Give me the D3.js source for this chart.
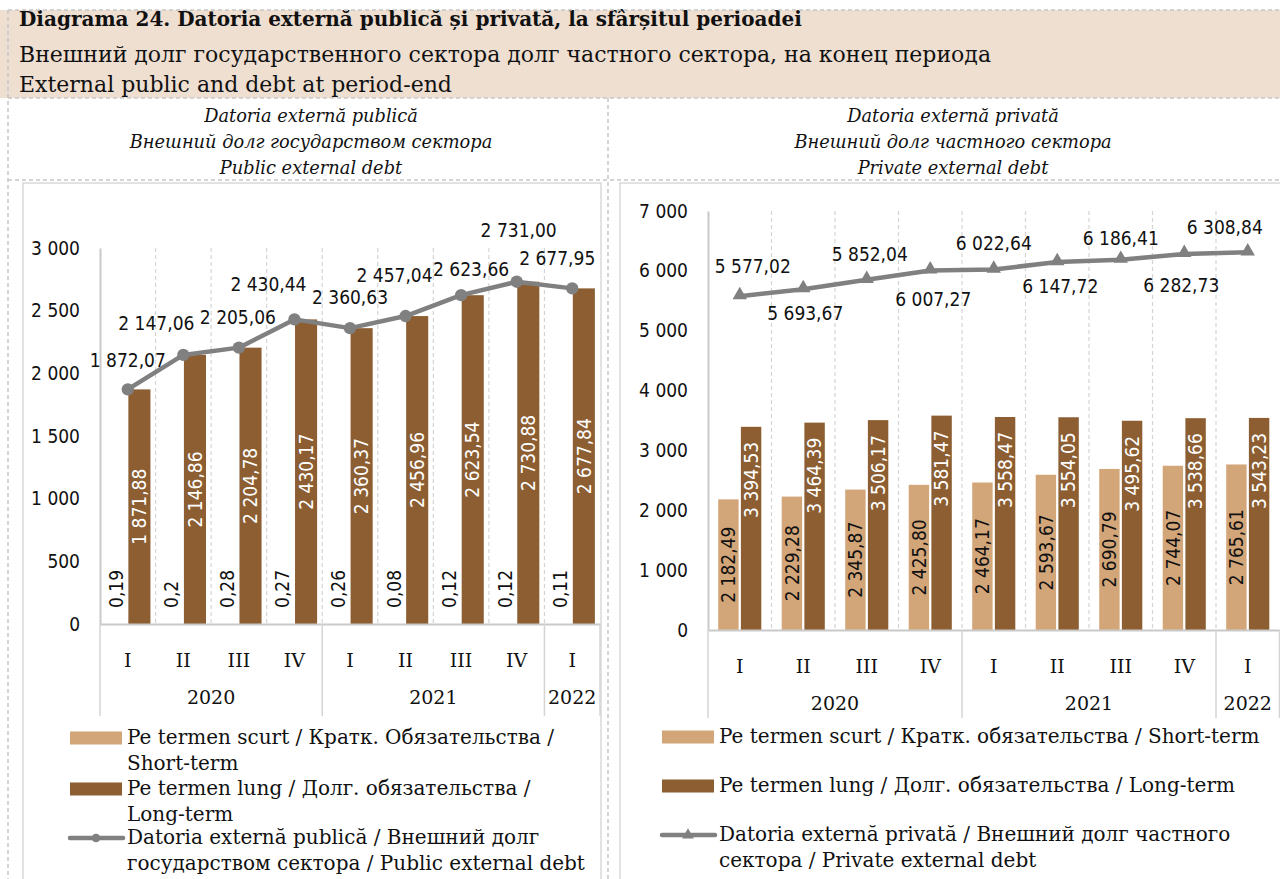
<!DOCTYPE html>
<html>
<head>
<meta charset="utf-8">
<script src="https://cdn.jsdelivr.net/npm/d3@7"></script>
<style>
  body { margin: 0; background: #fff; }
  svg { display: block; }
  .serif { font-family: "DejaVu Serif", "Liberation Serif", serif; }
  .num { font-family: "Liberation Sans Narrow", "DejaVu Sans Condensed", "Roboto", sans-serif; }
</style>
</head>
<body>
<div id="chart"></div>
<script>
// categories
var quarters = ["I", "II", "III", "IV", "I", "II", "III", "IV", "I"];
var years = ["2020", "2021", "2022"];
var yearSpan = [4, 4, 1];

// public external debt (left panel)
var pubShort = [0.19, 0.2, 0.28, 0.27, 0.26, 0.08, 0.12, 0.12, 0.11];
var pubLong = [1871.88, 2146.86, 2204.78, 2430.17, 2360.37, 2456.96, 2623.54, 2730.88, 2677.84];
var pubTotal = [1872.07, 2147.06, 2205.06, 2430.44, 2360.63, 2457.04, 2623.66, 2731.00, 2677.95];
var pubTicks = [0, 500, 1000, 1500, 2000, 2500, 3000];

// private external debt (right panel)
var privShort = [2182.49, 2229.28, 2345.87, 2425.80, 2464.17, 2593.67, 2690.79, 2744.07, 2765.61];
var privLong = [3394.53, 3464.39, 3506.17, 3581.47, 3558.47, 3554.05, 3495.62, 3538.66, 3543.23];
var privTotal = [5577.02, 5693.67, 5852.04, 6007.27, 6022.64, 6147.72, 6186.41, 6282.73, 6308.84];
var privTicks = [0, 1000, 2000, 3000, 4000, 5000, 6000, 7000];

var colShort = "#d3a679", colLong = "#8c5e32", colLine = "#808080";

var W = 1280, H = 879;
var svg = d3.select("#chart").append("svg").attr("width", W).attr("height", H);

var loc = d3.formatLocale({decimal: ",", thousands: " ", grouping: [3]});
var f2 = loc.format(",.2f"), f2t = loc.format(",.2~f"), f0 = loc.format(",.0f");

// header band
svg.append("rect").attr("x", 0).attr("y", 10).attr("width", W).attr("height", 88).attr("fill", "#efdfd1");
var head = svg.append("g").attr("class", "serif").attr("fill", "#111");
head.append("text").attr("x", 19).attr("y", 26).attr("font-size", 20).attr("font-weight", "bold")
  .text("Diagrama 24. Datoria externă publică și privată, la sfârșitul perioadei");
head.append("text").attr("x", 19).attr("y", 62).attr("font-size", 22)
  .text("Внешний долг государственного сектора  долг частного сектора, на конец периода");
head.append("text").attr("x", 19).attr("y", 92).attr("font-size", 22)
  .text("External public and debt at period-end");

// dashed frame
var dash = svg.append("g").attr("stroke", "#c6c6c6").attr("stroke-width", 1.5).attr("stroke-dasharray", "4,3").attr("fill", "none");
[10, 98, 180].forEach(function(y) {
  dash.append("line").attr("x1", 8).attr("x2", W).attr("y1", y).attr("y2", y);
});
dash.append("line").attr("x1", 8).attr("x2", 8).attr("y1", 10).attr("y2", H);
dash.append("line").attr("x1", 608).attr("x2", 608).attr("y1", 98).attr("y2", H);

// panel subtitles
function subtitle(cx, lines) {
  var g = svg.append("g").attr("class", "serif").attr("font-style", "italic").attr("font-size", 17.8)
    .attr("text-anchor", "middle").attr("fill", "#111");
  lines.forEach(function(t, i) {
    g.append("text").attr("x", cx).attr("y", 122 + i * 26).text(t);
  });
}
subtitle(311, ["Datoria externă publică", "Внешний долг государством сектора", "Public external debt"]);
subtitle(953, ["Datoria externă privată", "Внешний долг частного сектора", "Private external debt"]);

// chart boxes
svg.append("rect").attr("x", 23).attr("y", 183).attr("width", 578).attr("height", 720)
  .attr("fill", "none").attr("stroke", "#d9d9d9").attr("stroke-width", 1.5);
svg.append("rect").attr("x", 620).attr("y", 183).attr("width", 720).attr("height", 720)
  .attr("fill", "none").attr("stroke", "#d9d9d9").attr("stroke-width", 1.5);

function panel(o) {
  var idx = d3.range(quarters.length);
  var x = d3.scaleBand().domain(idx).range([o.x0, o.x1]);
  var y = d3.scaleLinear().domain([0, o.ticks[o.ticks.length - 1]]).range([o.y0, o.y1]);
  var inner = d3.scaleBand().domain(["s", "l"]).range([0, x.bandwidth()])
    .paddingInner(o.padIn).paddingOuter(o.padOut);
  var g = svg.append("g");

  // vertical dashed grid at category borders
  idx.slice(1).forEach(function(i) {
    g.append("line").attr("x1", x(i)).attr("x2", x(i)).attr("y1", y.range()[1]).attr("y2", o.y0)
      .attr("stroke", "#d4d4d4").attr("stroke-width", 1.2).attr("stroke-dasharray", "4,3");
  });

  // y axis
  var ya = g.append("g").attr("transform", "translate(" + o.x0 + ",0)")
    .call(d3.axisLeft(y).tickValues(o.ticks).tickSize(0).tickPadding(o.tickPad).tickFormat(f0));
  ya.select(".domain").attr("stroke", "#c9c9c9").attr("stroke-width", 2);
  ya.selectAll("text").attr("class", "num").attr("font-size", 19).attr("fill", "#111");

  // bars
  g.selectAll(".bs").data(o.short).enter().append("rect")
    .attr("x", function(d, i) { return x(i) + inner("s"); })
    .attr("y", function(d) { return y(d); })
    .attr("width", inner.bandwidth())
    .attr("height", function(d) { return o.y0 - y(d); })
    .attr("fill", colShort);
  g.selectAll(".bl").data(o.long).enter().append("rect")
    .attr("x", function(d, i) { return x(i) + inner("l"); })
    .attr("y", function(d) { return y(d); })
    .attr("width", inner.bandwidth())
    .attr("height", function(d) { return o.y0 - y(d); })
    .attr("fill", colLong);

  // x axis
  var xa = g.append("g").attr("transform", "translate(0," + o.y0 + ")")
    .call(d3.axisBottom(x).tickSize(0).tickPadding(o.qPad).tickFormat(function(i) { return quarters[i]; }));
  xa.select(".domain").attr("stroke", "#c9c9c9").attr("stroke-width", 2);
  xa.selectAll("text").attr("class", "serif").attr("font-size", 19).attr("fill", "#111");

  // year groups
  var start = 0;
  var seps = [0];
  years.forEach(function(yr, k) {
    var a = x(start), b = x(start + yearSpan[k] - 1) + x.bandwidth();
    g.append("text").attr("class", "serif").attr("x", (a + b) / 2).attr("y", o.yearY)
      .attr("text-anchor", "middle").attr("font-size", 19).attr("fill", "#111").text(yr);
    start += yearSpan[k];
    seps.push(start);
  });
  seps.forEach(function(i) {
    var sx = i < quarters.length ? x(i) : o.x1;
    g.append("line").attr("x1", sx).attr("x2", sx).attr("y1", o.y0).attr("y2", o.sepEnd)
      .attr("stroke", "#d4d4d4").attr("stroke-width", 1.5);
  });

  // bar labels
  function vlabel(d, i, key, ty, anchor, color, fmt) {
    var cx = x(i) + inner(key) + inner.bandwidth() / 2;
    g.append("text").attr("class", "num").attr("font-size", 19).attr("fill", color)
      .attr("text-anchor", anchor).attr("dy", "0.35em")
      .attr("transform", "translate(" + cx + "," + ty + ") rotate(-90)")
      .text(fmt(d));
  }
  o.short.forEach(function(d, i) {
    if (o.shortPos === "out") vlabel(d, i, "s", y(d) - 16, "start", "#111", f2t);
    else vlabel(d, i, "s", (y(d) + o.y0) / 2, "middle", "#111", f2);
  });
  o.long.forEach(function(d, i) {
    if (o.longPos === "center") vlabel(d, i, "l", (y(d) + o.y0) / 2, "middle", "#fff", f2);
    else vlabel(d, i, "l", y(d) + 15, "end", "#fff", f2);
  });

  // total line
  var cxl = function(i) { return x(i) + x.bandwidth() / 2; };
  var line = d3.line().x(function(d, i) { return cxl(i); }).y(function(d) { return y(d); });
  g.append("path").datum(o.total).attr("d", line).attr("fill", "none")
    .attr("stroke", colLine).attr("stroke-width", 4.5).attr("stroke-linejoin", "round");
  g.selectAll(".mk").data(o.total).enter().append("path")
    .attr("transform", function(d, i) { return "translate(" + cxl(i) + "," + (y(d) + o.markDy) + ")"; })
    .attr("d", d3.symbol().type(o.marker).size(o.markSize))
    .attr("fill", colLine);
  o.total.forEach(function(d, i) {
    var nud = o.nudge[i];
    g.append("text").attr("class", "num").attr("font-size", 19).attr("fill", "#111")
      .attr("text-anchor", "middle").attr("dy", "0.35em")
      .attr("x", cxl(i) + nud[0]).attr("y", y(d) + nud[1])
      .text(f2(d));
  });
}

// label nudges (layout only): [dx, dy] relative to each point
var pubNudge = [[0, -29], [-27, -32], [-1, -30], [-26, -35], [0, -31], [-11, -41], [10, -26], [2, -51], [-15, -30]];
var privNudge = [[13, -30], [2, 24], [3, -25], [3, 29], [0, -26], [3, 24], [0, -21], [-3, 31], [-23, -25]];

panel({x0: 100, x1: 600, y0: 624, y1: 248, ticks: pubTicks, tickPad: 20,
  short: pubShort, long: pubLong, total: pubTotal, padIn: 0.05, padOut: 0.22,
  qPad: 30, yearY: 704, sepEnd: 716, shortPos: "out", longPos: "center",
  marker: d3.symbolCircle, markSize: 120, markDy: 0, nudge: pubNudge});

panel({x0: 708, x1: 1279.5, y0: 630, y1: 211, ticks: privTicks, tickPad: 20,
  short: privShort, long: privLong, total: privTotal, padIn: 0.1, padOut: 0.45,
  qPad: 30, yearY: 710, sepEnd: 718, shortPos: "center", longPos: "end",
  marker: d3.symbolTriangle, markSize: 90, markDy: -1, nudge: privNudge});

// legends
function legend(x0, items) {
  var g = svg.append("g").attr("class", "serif").attr("font-size", 20).attr("fill", "#111");
  items.forEach(function(it) {
    if (it.type === "bar") {
      g.append("rect").attr("x", x0).attr("y", it.y - 6.5).attr("width", 52).attr("height", 13).attr("fill", it.color);
    } else {
      g.append("line").attr("x1", x0).attr("x2", x0 + 53).attr("y1", it.y).attr("y2", it.y)
        .attr("stroke", colLine).attr("stroke-width", 4.5).attr("stroke-linecap", "round");
      g.append("path").attr("transform", "translate(" + (x0 + 26) + "," + it.y + ")")
        .attr("d", d3.symbol().type(it.marker).size(60)).attr("fill", colLine);
    }
    it.lines.forEach(function(t, k) {
      g.append("text").attr("x", x0 + 57).attr("y", it.y + 6 + k * 25.5).text(t);
    });
  });
}
legend(70, [
  {type: "bar", color: colShort, y: 738, lines: ["Pe termen scurt / Кратк. Обязательства /", "Short-term"]},
  {type: "bar", color: colLong, y: 789, lines: ["Pe termen lung / Долг. обязательства /", "Long-term"]},
  {type: "line", marker: d3.symbolCircle, y: 838, lines: ["Datoria externă publică / Внешний долг", "государством сектора / Public external debt"]}
]);
legend(662, [
  {type: "bar", color: colShort, y: 737, lines: ["Pe termen scurt / Кратк. обязательства / Short-term"]},
  {type: "bar", color: colLong, y: 786, lines: ["Pe termen lung / Долг. обязательства / Long-term"]},
  {type: "line", marker: d3.symbolTriangle, y: 835, lines: ["Datoria externă privată / Внешний долг частного", "сектора / Private external debt"]}
]);
</script>
</body>
</html>
